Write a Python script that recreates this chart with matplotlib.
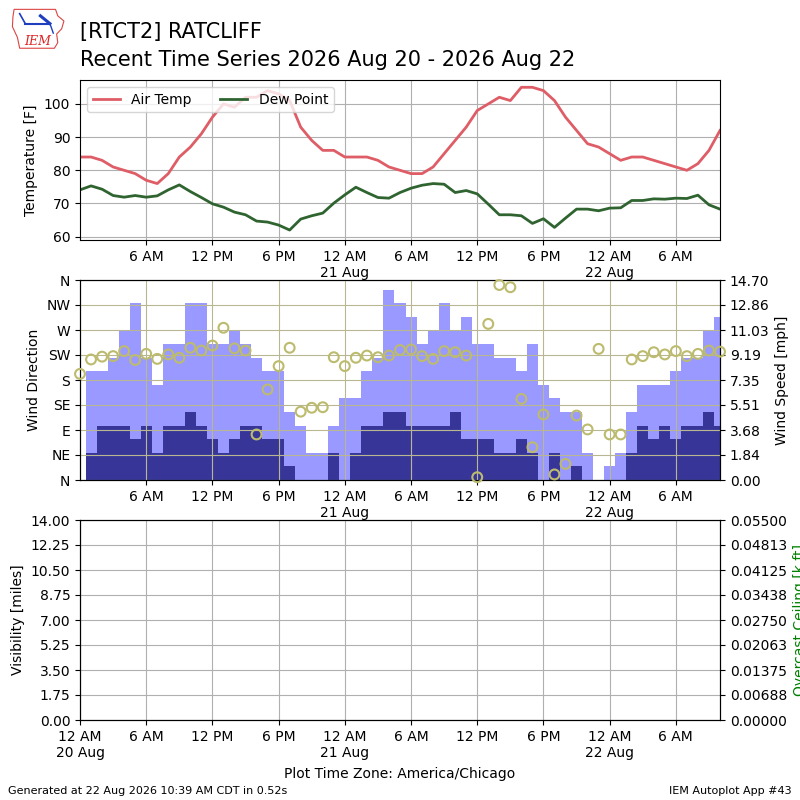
#! /usr/bin/env python
"""
plot.py - recent time series for RTCT2 (IEM autoplot 43 style)
"""

import numpy as np
import matplotlib
matplotlib.use('Agg')
import matplotlib.pyplot as plt
from matplotlib.patches import Polygon

# hourly obs, hour 0 = 12 AM 20 Aug
hours = np.arange(59)

tmpf = [84, 84, 83, 81, 80, 79, 77, 76, 79, 84,
        87, 91, 96, 100, 99, 102, 102, 104, 103, 101,
        93, 89, 86, 86, 84, 84, 84, 83, 81, 80,
        79, 79, 81, 85, 89, 93, 98, 100, 102, 101,
        105, 105, 104, 101, 96, 92, 88, 87, 85, 83,
        84, 84, 83, 82, 81, 80, 82, 86, 92]

dwpf = [74.1, 75.3, 74.3, 72.4, 71.9, 72.4, 71.9, 72.3, 74.1, 75.6,
        73.6, 71.8, 69.9, 68.9, 67.4, 66.6, 64.7, 64.4, 63.5, 62.0,
        65.3, 66.3, 67.1, 70.1, 72.6, 74.9, 73.3, 71.8, 71.6, 73.3,
        74.6, 75.5, 76.0, 75.8, 73.3, 73.9, 72.9, 69.8, 66.6, 66.6,
        66.3, 64.0, 65.4, 62.8, 65.6, 68.3, 68.3, 67.8, 68.6, 68.7,
        70.9, 70.9, 71.4, 71.3, 71.6, 71.5, 72.5, 69.6, 68.3]

drct = [191, 217, 222, 223, 232, 216, 227, 218, 226, 220,
        238, 233, 242, 274, 237, 233, 82, 163, 205, 238,
        123, 130, 131, 221, 205, 220, 224, 221, 224, 234,
        235, 223, 218, 232, 230, 224, 5, 281, 351, 347,
        146, 59, 118, 10, 29, 116, 91, 236, 82, 82,
        217, 223, 230, 226, 232, 223, 227, 233, 231]

# wind speed and gust [mph]
sped = [0, 2, 4, 4, 4, 3, 4, 2, 4, 4,
        5, 4, 3, 2, 3, 4, 4, 3, 3, 1,
        0, 0, 0, 2, 0, 2, 4, 4, 5, 5,
        4, 4, 4, 4, 5, 3, 3, 3, 2, 2,
        3, 2, 0, 2, 0, 1, 0, 0, 0, 0,
        2, 4, 3, 4, 3, 4, 4, 5, 4]

gust = [0, 8, 8, 9, 11, 13, 9, 7, 10, 10,
        13, 13, 10, 10, 11, 10, 9, 8, 8, 5,
        4, 2, 2, 4, 6, 6, 8, 9, 14, 13,
        12, 10, 11, 13, 11, 12, 10, 10, 9, 9,
        8, 10, 7, 6, 5, 5, 2, 0, 1, 2,
        5, 7, 7, 7, 8, 9, 9, 11, 12]

tick_hours = [0, 6, 12, 18, 24, 30, 36, 42, 48, 54]
tick_labels = ['12 AM\n20 Aug', '6 AM', '12 PM', '6 PM', '12 AM\n21 Aug',
               '6 AM', '12 PM', '6 PM', '12 AM\n22 Aug', '6 AM']
dir_labels = ['N', 'NE', 'E', 'SE', 'S', 'SW', 'W', 'NW', 'N']
speed_labels = ['0.00', '1.84', '3.68', '5.51', '7.35', '9.19',
                '11.03', '12.86', '14.70']
vis_labels = ['0.00', '1.75', '3.50', '5.25', '7.00', '8.75',
              '10.50', '12.25', '14.00']
ceil_labels = ['0.00000', '0.00688', '0.01375', '0.02063', '0.02750',
               '0.03438', '0.04125', '0.04813', '0.05500']

xmin, xmax = 0, 58


def draw_logo(fig):
    lax = fig.add_axes([0.012, 0.937, 0.07, 0.054])
    lax.set_xlim(0, 1)
    lax.set_ylim(0, 1)
    lax.axis('off')
    outline = [(0.08, 0.95), (0.82, 0.95), (0.86, 0.80), (0.97, 0.68),
               (0.93, 0.50), (0.84, 0.38), (0.86, 0.18), (0.80, 0.05),
               (0.18, 0.05), (0.14, 0.30), (0.05, 0.55), (0.06, 0.78)]
    lax.add_patch(Polygon(outline, closed=True, fill=False,
                          edgecolor='#dd4444', lw=0.8))
    lax.plot([0.28, 0.72], [0.62, 0.62], color='#1f3fbf', lw=1.5)
    lax.plot([0.18, 0.28], [0.85, 0.62], color='#1f3fbf', lw=1.2)
    lax.plot([0.55, 0.72], [0.80, 0.62], color='#1f3fbf', lw=2.2)
    lax.plot([0.72, 0.78], [0.62, 0.40], color='#1f3fbf', lw=1.0)
    lax.text(0.50, 0.12, 'IEM', color='#dd2222', fontsize=9,
             family='DejaVu Serif', style='italic', ha='center')


def main():
    fig = plt.figure(figsize=(8, 8), dpi=100)

    fig.text(0.1, 0.953, '[RTCT2] RATCLIFF', fontsize=15, va='baseline')
    fig.text(0.1, 0.918, 'Recent Time Series 2026 Aug 20 - 2026 Aug 22',
             fontsize=15, va='baseline')
    draw_logo(fig)

    # temperature panel
    ax = fig.add_axes([0.1, 0.7, 0.8, 0.2])
    ax.plot(hours, tmpf, color='#de5d66', lw=2, label='Air Temp')
    ax.plot(hours, dwpf, color='#2f6430', lw=2, label='Dew Point')
    ax.set_ylim(59, 107.2)
    ax.set_yticks([60, 70, 80, 90, 100])
    ax.set_xlim(xmin, xmax)
    ax.set_xticks(tick_hours[1:])
    ax.set_xticklabels(tick_labels[1:])
    ax.set_ylabel('Temperature [F]')
    ax.grid(True)
    ax.legend(loc='upper left', ncol=2)

    # wind panel
    axd = fig.add_axes([0.1, 0.4, 0.8, 0.25])
    axs = axd.twinx()
    axs.bar(hours, gust, width=1.0, color='#9999ff', lw=0, zorder=1)
    axs.bar(hours, sped, width=1.0, color='#373698', lw=0, zorder=2)
    axs.set_ylim(0, 14.7)
    axs.set_yticks(np.linspace(0, 14.7, 9))
    axs.set_yticklabels(speed_labels)
    axs.set_ylabel('Wind Speed [mph]')
    axd.set_zorder(axs.get_zorder() + 1)
    axd.patch.set_visible(False)
    axd.scatter(hours, drct, s=50, facecolor='none', edgecolor='#bcbb6e',
                lw=1.5, zorder=5, clip_on=False)
    axd.set_ylim(0, 360)
    axd.set_yticks(np.arange(0, 361, 45))
    axd.set_yticklabels(dir_labels)
    axd.set_ylabel('Wind Direction')
    axd.set_xlim(xmin, xmax)
    axd.set_xticks(tick_hours[1:])
    axd.set_xticklabels(tick_labels[1:])
    axd.grid(True, color='#b8b792')

    # visibility / ceiling panel (no data)
    axv = fig.add_axes([0.1, 0.1, 0.8, 0.25])
    axc = axv.twinx()
    axv.set_ylim(0, 14)
    axv.set_yticks(np.linspace(0, 14, 9))
    axv.set_yticklabels(vis_labels)
    axv.set_ylabel('Visibility [miles]')
    axv.set_xlim(xmin, xmax)
    axv.set_xticks(tick_hours)
    axv.set_xticklabels(tick_labels)
    axv.grid(True)
    axc.set_ylim(0, 0.055)
    axc.set_yticks(np.linspace(0, 0.055, 9))
    axc.set_yticklabels(ceil_labels)
    axc.set_ylabel('Overcast Ceiling [k ft]', color='g')

    fig.text(0.5, 0.027, 'Plot Time Zone: America/Chicago', ha='center')
    fig.text(0.01, 0.008, 'Generated at 22 Aug 2026 10:39 AM CDT in 0.52s',
             fontsize=8)
    fig.text(0.99, 0.008, 'IEM Autoplot App #43', fontsize=8, ha='right')

    fig.savefig('out.png', dpi=100)
    plt.close(fig)


if __name__ == '__main__':
    main()
